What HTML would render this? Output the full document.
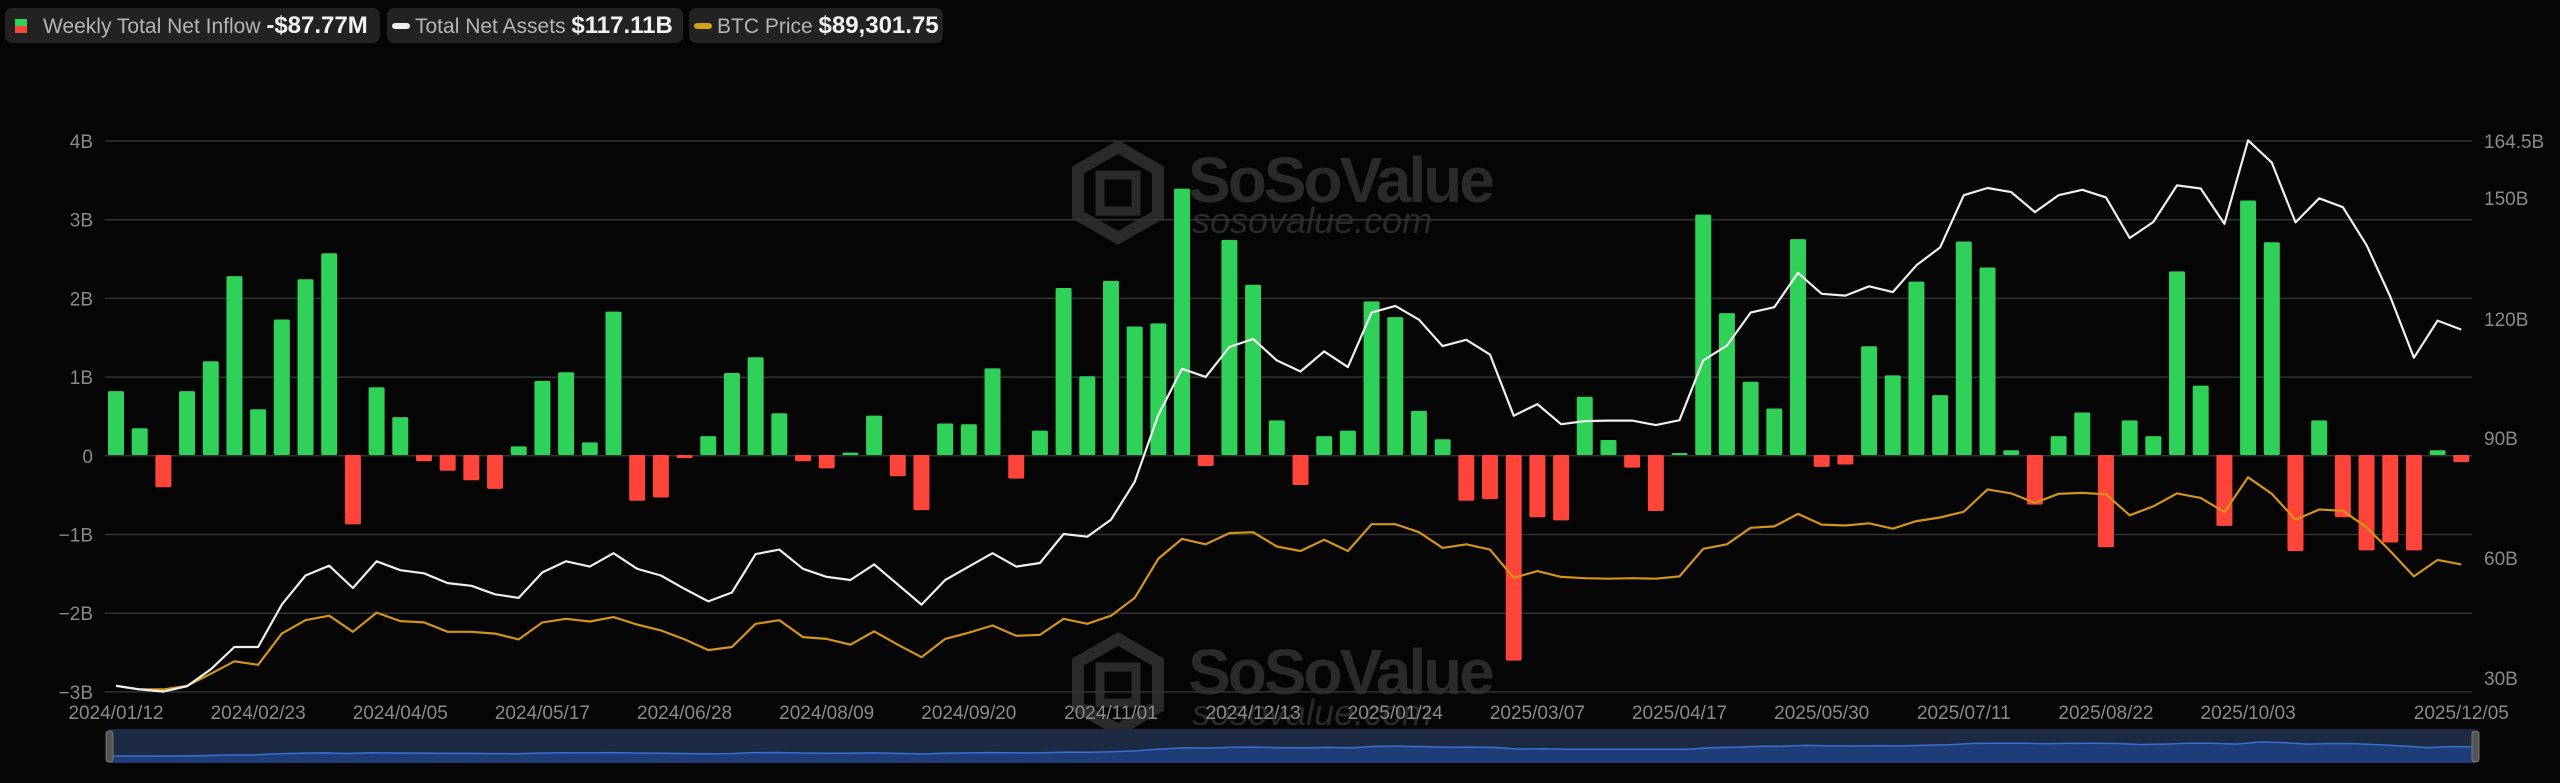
<!DOCTYPE html>
<html><head><meta charset="utf-8"><style>
html,body{margin:0;padding:0;background:#050505;width:2560px;height:783px;overflow:hidden;font-family:"Liberation Sans",sans-serif}
.box{position:absolute;top:8px;height:35px;background:#222;border-radius:7px;color:#b5b5b5;font-size:21px;line-height:35px;white-space:nowrap}
.box b{color:#f2f2f2;font-size:24px}
</style></head><body>
<div class="box" style="left:5px;width:375px"><span style="position:absolute;left:10px;top:11px;width:12px;height:7px;background:#30d158"></span><span style="position:absolute;left:10px;top:18px;width:12px;height:7px;background:#ff453a"></span><span style="position:absolute;left:38px">Weekly Total Net Inflow <b>-$87.77M</b></span></div>
<div class="box" style="left:387px;width:296px"><span style="position:absolute;left:5px;top:15px;width:18px;height:6px;border-radius:3px;background:#eee"></span><span style="position:absolute;left:28px">Total Net Assets <b>$117.11B</b></span></div>
<div class="box" style="left:689px;width:254px"><span style="position:absolute;left:5px;top:15px;width:18px;height:6px;border-radius:3px;background:#d4a017"></span><span style="position:absolute;left:28px">BTC Price <b>$89,301.75</b></span></div>
<svg id="s" width="2560" height="783" style="position:absolute;left:0;top:0" xmlns="http://www.w3.org/2000/svg"></svg>
<script>
var W=[1357,1365,1370,1358,1320,1270,1270,1175,1110,1088,1138,1078,1098,1105,1127,1133,1152,1160,1103,1078,1090,1060,
1095,1110,1140,1168,1148,1062,1052,1095,1113,1120,1085,1130,1175,1120,1090,1060,1090,1082,1017,1023,985,900,750,647,665,598,580,628,
653,608,643,521,506,537,596,582,615,752,726,771,764,763,763,773,762,628,595,521,509,432,479,483,462,475,
415,375,258,242,251,296,258,246,263,354,318,236,243,322,135,185,319,265,285,370,485,622,539,559];
var O=[1357,1365,1365,1357,1330,1302,1310,1240,1210,1200,1236,1193,1212,1215,1236,1236,1240,1253,1215,1207,1213,1203,
1220,1233,1253,1277,1270,1218,1210,1248,1252,1265,1235,1265,1293,1252,1238,1222,1245,1243,1207,1218,1200,1160,1072,1028,1040,1015,1013,1045,
1055,1030,1055,995,995,1013,1048,1040,1052,1115,1100,1113,1116,1117,1116,1117,1112,1050,1040,1003,1000,972,996,998,993,1005,
988,980,967,917,926,947,927,925,928,975,955,926,936,968,890,927,985,962,965,1002,1055,1112,1075,1085];
var B=[.81,.34,-.41,.81,1.19,2.27,.58,1.72,2.23,2.56,-.88,.86,.48,-.08,-.2,-.32,-.43,.11,.94,1.05,.16,1.82,-.58,-.54,-.04,
.24,1.04,1.24,.53,-.08,-.17,.03,.5,-.27,-.7,.4,.39,1.1,-.3,.31,2.12,1.0,2.21,1.63,1.67,3.38,-.14,2.73,2.16,.44,-.38,
.24,.31,1.95,1.75,.56,.2,-.58,-.56,-2.61,-.79,-.83,.74,.19,-.16,-.71,.02,3.05,1.8,.93,.59,2.74,-.15,-.12,1.38,1.01,2.2,
.76,2.71,2.38,.06,-.63,.24,.54,-1.17,.44,.24,2.33,.88,-.9,3.23,2.7,-1.22,.44,-.79,-1.21,-1.11,-1.21,.06,-.09];
function X(i){return 116+23.69*i}
function Y(z){return 80+z/2.24}
var h='';
function wm(dy){return '<g transform="translate(0,'+dy+')" fill="#2a2a2a"><polygon points="1118,147 1158,170 1158,215 1118,238 1078,215 1078,170" fill="none" stroke="#2a2a2a" stroke-width="12"/><rect x="1100" y="175" width="36" height="36" fill="none" stroke="#2a2a2a" stroke-width="9"/><text x="1188" y="202" font-size="64" font-weight="bold" font-family="Liberation Sans,sans-serif" letter-spacing="-3">SoSoValue</text><text x="1192" y="233" font-size="36" font-style="italic" font-family="Liberation Sans,sans-serif">sosovalue.com</text></g>'}
h+=wm(0)+wm(492);
var L=['4B','3B','2B','1B','0','\u22121B','\u22122B','\u22123B'];
for(var k=0;k<8;k++){var y=141+k*78.7;h+='<line x1="105" x2="2472" y1="'+y+'" y2="'+y+'" stroke="#333" stroke-width="1.5"/>';
h+='<text x="93" y="'+(y+7)+'" text-anchor="end" font-size="19" fill="#8a8a8a">'+L[k]+'</text>';}
var R=[['164.5B',141],['150B',198],['120B',319],['90B',438],['60B',558],['30B',678]];
R.forEach(function(r){h+='<text x="2484" y="'+(r[1]+7)+'" font-size="19" fill="#8a8a8a">'+r[0]+'</text>'});
var D=['2024/01/12','2024/02/23','2024/04/05','2024/05/17','2024/06/28','2024/08/09','2024/09/20','2024/11/01','2024/12/13','2025/01/24','2025/03/07','2025/04/17','2025/05/30','2025/07/11','2025/08/22','2025/10/03'];
D.forEach(function(d,j){h+='<text x="'+X(j*6)+'" y="719" text-anchor="middle" font-size="19" fill="#8a8a8a">'+d+'</text>'});
h+='<text x="'+X(99)+'" y="719" text-anchor="middle" font-size="19" fill="#8a8a8a">2025/12/05</text>';
for(var i=0;i<100;i++){var v=B[i],x=X(i)-8,y0=455,hh=Math.max(Math.abs(v)*78.8,2);
h+='<rect x="'+x+'" y="'+(v>=0?y0-hh:y0)+'" width="16" height="'+hh+'" rx="1.5" fill="'+(v>=0?'#30d158':'#ff453a')+'"/>';}
function pl(a,c){var p=a.map(function(z,i){return X(i).toFixed(1)+','+Y(z).toFixed(1)}).join(' ');return '<polyline points="'+p+'" fill="none" stroke="'+c+'" stroke-width="2.2" stroke-linejoin="round"/>'}
h+=pl(O,'#d4941a')+pl(W,'#eeeeee');
h+='<rect x="109" y="729" width="2366" height="34" fill="#1c2a44"/>';
var np=W.map(function(z,i){var yy=Y(z);return (109+(i/99)*2366).toFixed(1)+','+(756-(686-yy)/546*14).toFixed(1)}).join(' ');
h+='<polygon points="109,763 '+np+' 2475,763" fill="#1e3d78"/><polyline points="'+np+'" fill="none" stroke="#3a6fd0" stroke-width="1.5"/>';
h+='<rect x="106" y="731" width="7" height="31" rx="3" fill="#555" stroke="#777"/><rect x="2472" y="731" width="7" height="31" rx="3" fill="#555" stroke="#777"/>';
document.getElementById('s').innerHTML=h;
</script>
</body></html>
